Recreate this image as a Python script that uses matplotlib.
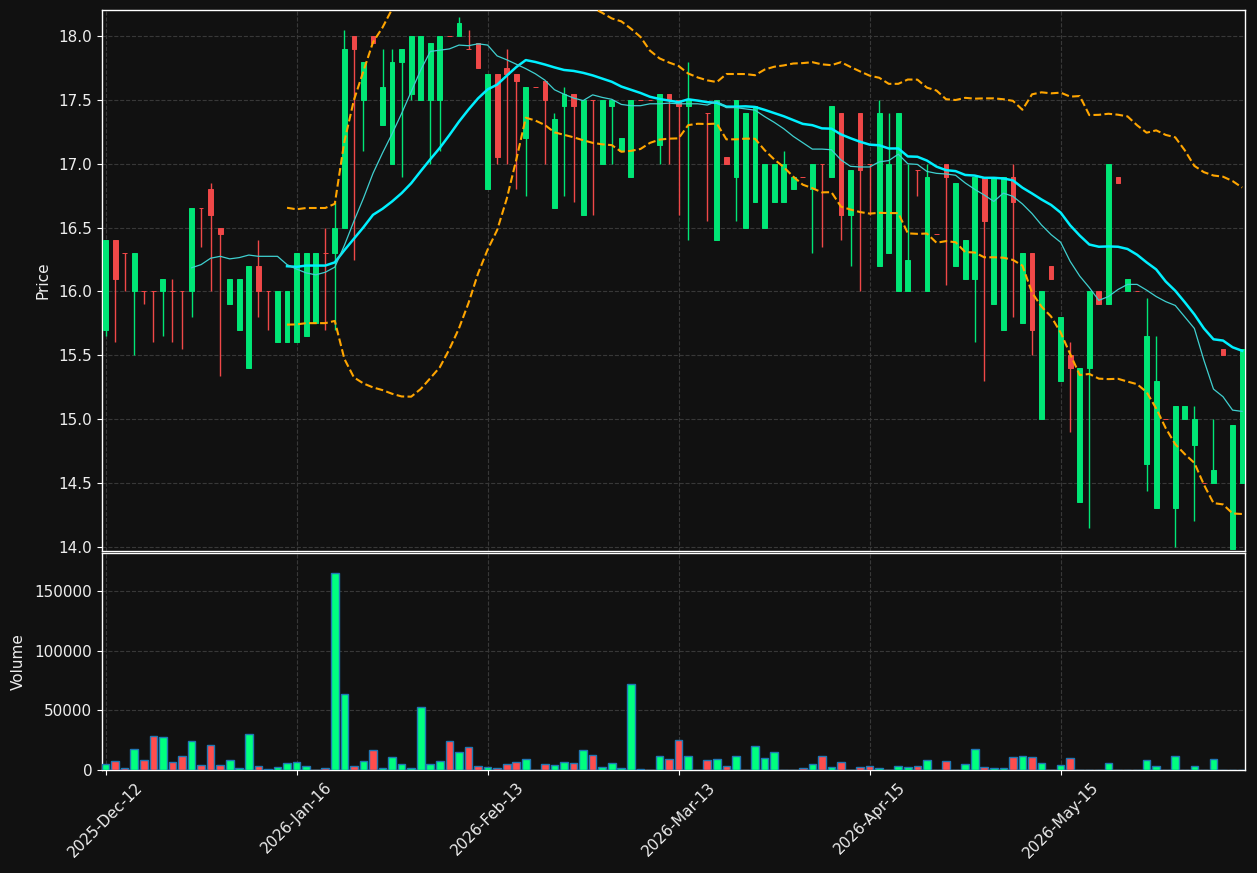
import numpy as np
import pandas as pd
import matplotlib
matplotlib.use("Agg")
import matplotlib.pyplot as plt

# ---------------- data ----------------
OPEN = [15.7, 16.4, 16.3, 16.0, 16.0, 16.0, 16.0, 16.0, 16.0, 16.0,
        16.65, 16.8, 16.5, 15.9, 15.7, 15.4, 16.2, 16.0, 15.6, 15.6,
        15.6, 15.65, 15.75, 16.3, 16.3, 16.5, 18.0, 17.5, 18.0, 17.3,
        17.0, 17.8, 17.55, 17.5, 17.5, 17.5, 18.0, 18.0, 17.9, 17.95,
        16.8, 17.7, 17.75, 17.7, 17.2, 17.6, 17.65, 16.65, 17.45, 17.55,
        16.6, 17.5, 17.0, 17.45, 17.1, 16.9, 17.5, 17.5, 17.15, 17.55,
        17.5, 17.45, 17.5, 17.4, 16.4, 17.05, 16.9, 16.5, 16.7, 16.5,
        16.7, 16.7, 16.8, 16.9, 16.8, 17.0, 16.9, 17.4, 16.6, 17.4,
        17.0, 16.2, 16.3, 16.0, 16.0, 16.95, 16.0, 16.45, 17.0, 16.2,
        16.1, 16.1, 16.9, 15.9, 15.7, 16.9, 15.75, 16.3, 15.0, 16.2,
        15.3, 15.5, 14.35, 15.4, 16.0, 15.9, 16.9, 16.0, 16.0, 14.65,
        14.3, 15.0, 14.3, 15.0, 14.8, 14.5, 14.5, 15.55, 13.98, 14.5]
HIGH = [16.4, 16.4, 16.3, 16.3, 16.0, 16.0, 16.1, 16.1, 16.0, 16.65,
        16.65, 16.85, 16.5, 16.1, 16.1, 16.2, 16.4, 16.0, 16.0, 16.0,
        16.3, 16.3, 16.3, 16.5, 16.7, 18.05, 18.0, 17.8, 18.0, 17.9,
        17.9, 17.9, 18.0, 18.0, 17.95, 18.0, 18.0, 18.15, 18.05, 17.95,
        17.7, 17.7, 17.9, 17.7, 17.6, 17.6, 17.65, 17.4, 17.6, 17.55,
        17.5, 17.5, 17.5, 17.5, 17.2, 17.5, 17.5, 17.5, 17.55, 17.55,
        17.5, 17.8, 17.5, 17.4, 17.5, 17.05, 17.5, 17.4, 17.45, 17.0,
        17.0, 17.1, 16.9, 16.9, 17.0, 17.0, 17.45, 17.4, 16.95, 17.4,
        17.0, 17.5, 17.4, 17.4, 17.0, 16.95, 17.0, 16.45, 17.0, 16.85,
        16.4, 16.9, 16.9, 16.9, 16.9, 17.0, 16.3, 16.3, 16.0, 16.2,
        15.8, 15.6, 15.4, 16.0, 16.0, 17.0, 16.9, 16.1, 16.0, 15.95,
        15.65, 15.0, 15.1, 15.1, 15.1, 14.5, 15.0, 15.55, 14.95, 15.55]
LOW = [15.65, 15.6, 16.0, 15.5, 15.9, 15.6, 15.65, 15.6, 15.55, 15.8,
       16.35, 16.0, 15.34, 15.9, 15.7, 15.4, 15.8, 15.7, 15.6, 15.6,
       15.6, 15.65, 15.75, 15.7, 15.7, 16.5, 16.25, 17.1, 17.95, 17.3,
       17.0, 16.9, 17.5, 17.5, 17.0, 17.1, 18.0, 18.0, 17.9, 17.75,
       16.8, 17.0, 17.0, 16.8, 16.75, 17.6, 17.0, 16.65, 16.75, 16.7,
       16.6, 16.6, 17.0, 17.0, 17.1, 16.9, 17.5, 17.5, 17.0, 17.0,
       16.6, 16.4, 17.5, 16.55, 16.4, 17.0, 16.55, 16.5, 16.7, 16.5,
       16.7, 16.7, 16.8, 16.9, 16.3, 16.35, 16.9, 16.4, 16.2, 16.0,
       16.6, 16.2, 16.3, 16.0, 16.0, 16.75, 16.0, 16.45, 16.05, 16.2,
       16.1, 15.6, 15.3, 15.9, 15.7, 15.8, 15.75, 15.5, 15.0, 16.1,
       15.3, 14.9, 14.35, 14.15, 15.9, 15.9, 16.85, 16.0, 16.0, 14.44,
       14.3, 15.0, 14.0, 15.0, 14.2, 14.5, 14.5, 15.5, 13.98, 14.5]
CLOSE = [16.4, 16.1, 16.3, 16.3, 16.0, 16.0, 16.1, 16.0, 16.0, 16.65,
         16.65, 16.6, 16.45, 16.1, 16.1, 16.2, 16.0, 16.0, 16.0, 16.0,
         16.3, 16.3, 16.3, 16.3, 16.5, 17.9, 17.9, 17.8, 17.95, 17.6,
         17.8, 17.9, 18.0, 18.0, 17.95, 18.0, 18.0, 18.1, 17.9, 17.75,
         17.7, 17.05, 17.7, 17.65, 17.6, 17.6, 17.5, 17.35, 17.55, 17.45,
         17.5, 17.5, 17.5, 17.5, 17.2, 17.5, 17.5, 17.5, 17.55, 17.5,
         17.45, 17.5, 17.5, 17.4, 17.5, 17.0, 17.5, 17.4, 17.45, 17.0,
         17.0, 17.0, 16.9, 16.9, 17.0, 17.0, 17.45, 16.6, 16.95, 16.95,
         17.0, 17.4, 17.0, 17.4, 16.25, 16.95, 16.9, 16.45, 16.9, 16.85,
         16.4, 16.9, 16.55, 16.9, 16.9, 16.7, 16.3, 15.7, 16.0, 16.1,
         15.8, 15.4, 15.4, 16.0, 15.9, 17.0, 16.85, 16.1, 16.0, 15.65,
         15.3, 15.0, 15.1, 15.1, 15.0, 14.5, 14.6, 15.5, 14.95, 15.55]
VOLUME = [4800, 7300, 1400, 17400, 8150, 28400, 27500, 6460, 11800, 24200,
          3930, 20800, 3930, 8150, 1400, 30050, 3090, 560, 2250, 5620,
          6460, 3090, 300, 1400, 165800, 63800, 3090, 7300, 16600, 1400,
          10700, 4780, 1400, 52800, 4780, 7300, 24200, 14900, 19100, 3090,
          2250, 1400, 4780, 6460, 9000, 0, 4780, 3930, 6460, 5620,
          16600, 12400, 2250, 5620, 1400, 72200, 500, 0, 11500, 9000,
          25000, 11500, 0, 8150, 9000, 3090, 11500, 0, 19950, 9830,
          14900, 300, 300, 1400, 4780, 11500, 2250, 6460, 300, 2250,
          3090, 1400, 300, 3090, 2250, 3090, 8150, 300, 7300, 300,
          4780, 17400, 2250, 1400, 1400, 10700, 11500, 10700, 5620, 300,
          3930, 9830, 300, 0, 300, 5620, 200, 200, 200, 8150,
          3090, 200, 11500, 200, 3090, 200, 9000, 200, 200, 200]
TICK_POS = [0, 20, 40, 60, 80, 100]
TICK_LABELS = ["2025-Dec-12", "2026-Jan-16", "2026-Feb-13",
               "2026-Mar-13", "2026-Apr-15", "2026-May-15"]

# ---------------- style ----------------
BG = "#111111"
UP, DOWN = "#00e676", "#f04848"
VUP, VDOWN = "#00ff7f", "#ff4d4d"
GRID = "#383838"
TXT = "#eeeeee"

df = pd.DataFrame({"open": OPEN, "high": HIGH, "low": LOW,
                   "close": CLOSE, "volume": VOLUME})
x = np.arange(len(df))
up = df["close"].values > df["open"].values
ccol = np.where(up, UP, DOWN)
vcol = np.where(up, VUP, VDOWN)

ma10 = df["close"].rolling(10).mean()
ma20 = df["close"].rolling(20).mean()
sd20 = df["close"].rolling(20).std(ddof=0)
bb_up = ma20 + 2 * sd20
bb_lo = ma20 - 2 * sd20

fig = plt.figure(figsize=(12.57, 8.73), dpi=100, facecolor=BG)
ax = fig.add_axes([0.0811, 0.3688, 0.9095, 0.6197], facecolor=BG)
axv = fig.add_axes([0.0811, 0.1180, 0.9095, 0.2486], facecolor=BG, sharex=ax)

# candles
ax.vlines(x, df["low"], df["high"], colors=ccol, linewidth=1.0, zorder=2)
ax.bar(x, df["close"] - df["open"], bottom=df["open"], width=0.5,
       color=ccol, edgecolor=ccol, linewidth=0.7, zorder=3)

# indicators
ax.plot(x, ma20, color="#00f0ff", linewidth=1.8, zorder=4)
ax.plot(x, ma10, color="#3fd0d0", linewidth=0.9, zorder=4)
ax.plot(x, bb_up, color="orange", linestyle="--", linewidth=1.5, zorder=4)
ax.plot(x, bb_lo, color="orange", linestyle="--", linewidth=1.5, zorder=4)

ax.set_xlim(-0.38, 119.32)
ax.set_ylim(min(LOW) * 0.999, max(HIGH) * 1.003)
ax.set_ylabel("Price", color=TXT, fontsize=11, labelpad=6)

# volume
axv.bar(x, df["volume"], width=0.8, color=vcol, edgecolor="#1f77b4",
        linewidth=1.0, zorder=3)
axv.set_ylim(0, max(VOLUME) * 1.1)
axv.set_ylabel("Volume", color=TXT, fontsize=11, labelpad=6)
axv.set_xticks(TICK_POS)
axv.set_xticklabels(TICK_LABELS, rotation=45)

for a in (ax, axv):
    a.grid(True, color=GRID, linestyle="--", linewidth=0.8)
    a.set_axisbelow(True)
    for s in a.spines.values():
        s.set_color("white")
        s.set_linewidth(1.0)
    a.tick_params(colors="white", labelcolor=TXT, labelsize=11)

ax.tick_params(axis="x", labelbottom=False, length=0)

fig.savefig("out.png", dpi=100, facecolor=BG)
